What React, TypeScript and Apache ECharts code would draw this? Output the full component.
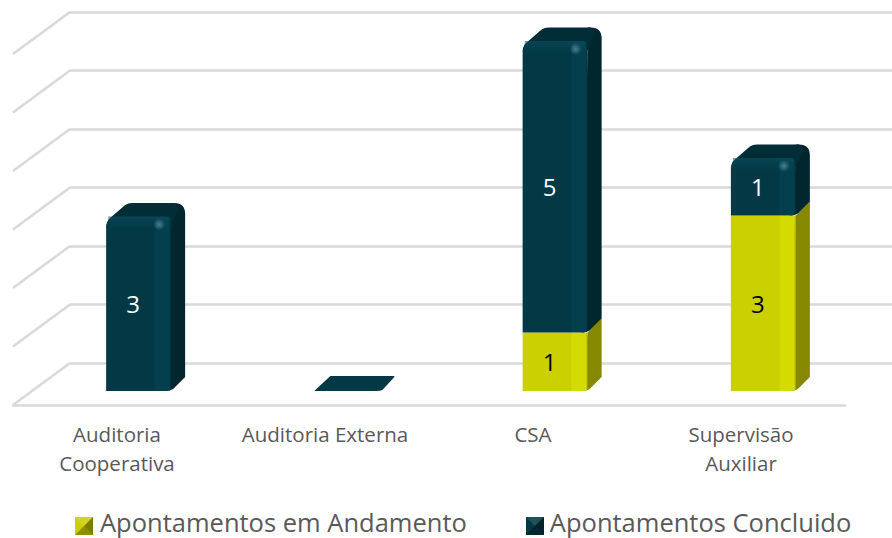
import React, { useEffect, useRef } from "react";
import * as echarts from "echarts";

const categories = ["Auditoria\nCooperativa", "Auditoria Externa", "CSA", "Supervisão\nAuxiliar"];
const andamento = [0, 0, 1, 3];
const concluido = [3, 0, 5, 1];
const wallTicks = [0, 1, 2, 3, 4, 5, 6];
const NAME_A = "Apontamentos em Andamento";
const NAME_C = "Apontamentos Concluido";
const FONT = '"Open Sans", sans-serif';

const NAVY = { main: "#023945", strip: "#043f4d", edge: "#022c36", side: "#01262e", top: "#012d37", band: "rgba(14,78,94,0.55)", spot: "rgba(80,140,155,0.85)", text: "#ffffff" };
const LIME = { main: "#cbd000", strip: "#d4db00", edge: "#a5a900", side: "#868900", top: "#9a9e00", band: "rgba(0,0,0,0)", spot: "rgba(0,0,0,0)", text: "#000000" };

const DX = 14, DY = -14, LEFT = 33, RIGHT = 32;

function renderBar(palette: typeof NAVY, isTop: (i: number) => boolean) {
  return (params: any, api: any) => {
    const i = api.value(0);
    const start = api.value(1);
    const end = api.value(2);
    const val = end - start;
    const top = isTop(i);
    if (val === 0 && !top) return { type: "group", children: [] };
    const pBase = api.coord([i, start]);
    const pTop = api.coord([i, end]);
    const x0 = pBase[0] - LEFT, x1 = pBase[0] + RIGHT;
    const yb = pBase[1], yt = pTop[1];
    const xr = x1 + DX, ybk = yb + DY;
    const ytk = yt + DY + 1.5;
    const children: any[] = [];
    if (val === 0) {
      children.push({
        type: "path",
        shape: { pathData: `M${x0},${yb} L${x0 + 3},${yb - 3} L${x0 + DX + 2},${ybk - 1} L${xr + 1},${ybk - 1} L${xr + 1},${ybk} L${x1 + 3},${yb - 1} Q${x1 + 1},${yb} ${x1 - 3},${yb} Z` },
        style: { fill: palette.main },
      });
      return { type: "group", children };
    }
    const sideD = top
      ? `M${x1 - 6},${yb} Q${x1 - 1},${yb} ${x1 + 2},${yb - 2} L${xr},${ybk} L${xr},${ytk + 11} Q${xr},${ytk} ${xr - 11},${ytk} L${x1},${ytk} L${x1},${yt + 8} Z`
      : `M${x1 - 6},${yb} Q${x1 - 1},${yb} ${x1 + 2},${yb - 2} L${xr},${ybk} L${xr},${ytk - 1.5} L${x1},${yt} Z`;
    children.push({ type: "path", shape: { pathData: sideD }, style: { fill: palette.side } });
    if (top) {
      const topD = `M${x0},${yt + 11} Q${x0 + 1},${yt + 5} ${x0 + 4},${yt + 2.5} L${x0 + 19},${ytk + 2} Q${x0 + 22},${ytk} ${x0 + 26},${ytk} L${x1 + 3},${ytk} L${x1 + 8},${ytk + 6} L${x1},${yt + 10} Z`;
      children.push({ type: "path", shape: { pathData: topD }, style: { fill: palette.top } });
    }
    const frontFill = new echarts.graphic.LinearGradient(0, 0, 1, 0, [
      { offset: 0, color: palette.main },
      { offset: 0.74, color: palette.main },
      { offset: 0.76, color: palette.strip },
      { offset: 0.97, color: palette.strip },
      { offset: 1, color: palette.edge },
    ]);
    const frontD = top
      ? `M${x0},${yb} L${x1 - 6},${yb} Q${x1 - 1},${yb} ${x1},${yb - 2} L${x1},${yt + 3} Q${x1 - 4},${yt + 1} ${x1 - 8},${yt + 1} L${x0 + 7},${yt + 1} Q${x0 + 1},${yt + 3} ${x0},${yt + 11} Z`
      : `M${x0},${yb} L${x1 - 6},${yb} Q${x1 - 1},${yb} ${x1},${yb - 2} L${x1},${yt} L${x0},${yt} Z`;
    children.push({ type: "path", shape: { pathData: frontD }, style: { fill: frontFill } });
    if (top) {
      children.push({
        type: "rect",
        shape: { x: x0 + 2, y: yt + 1, width: x1 - x0 - 4, height: 12 },
        style: {
          fill: new echarts.graphic.LinearGradient(0, 0, 0, 1, [
            { offset: 0, color: palette.band },
            { offset: 1, color: "rgba(14,78,94,0)" },
          ]),
        },
      });
      children.push({
        type: "circle",
        shape: { cx: x1 - 12, cy: yt + 9, r: 6 },
        style: {
          fill: new echarts.graphic.RadialGradient(0.5, 0.5, 0.5, [
            { offset: 0, color: palette.spot },
            { offset: 1, color: "rgba(80,140,155,0)" },
          ]),
        },
      });
    }
    children.push({
      type: "text",
      style: {
        text: String(val),
        x: pBase[0] - 6,
        y: (yb + yt) / 2,
        fill: palette.text,
        font: `24px ${FONT}`,
        align: "center",
        verticalAlign: "middle",
      },
    });
    return { type: "group", children };
  };
}

export default function App() {
  const ref = useRef<HTMLDivElement>(null);
  useEffect(() => {
    const chart = echarts.init(ref.current!, null, { renderer: "svg" });
    const hidden = { show: false };
    const bevel = (x: number, y: number, color: string) => {
      const s = 18, c = s / 2;
      const tri = (pts: number[][], fill: string) => ({ type: "polygon", silent: true, z: 20, shape: { points: pts }, style: { fill } });
      return [
        { type: "rect", silent: true, z: 19, shape: { x, y, width: s, height: s }, style: { fill: color } },
        tri([[x, y], [x + s, y], [x + c, y + c]], "rgba(255,255,255,0.12)"),
        tri([[x, y + s], [x + s, y + s], [x + c, y + c]], "rgba(0,0,0,0.3)"),
        tri([[x + s, y], [x + s, y + s], [x + c, y + c]], "rgba(0,0,0,0.4)"),
      ];
    };
    chart.setOption({
      animation: false,
      backgroundColor: "#ffffff",
      grid: [
        { left: 70, right: 0, top: 12, height: 351 },
        { left: 13, width: 832, top: 300, height: 105 },
        { left: 35, width: 833, top: 40, height: 351 },
      ],
      xAxis: [
        { gridIndex: 0, type: "category", data: categories, show: false },
        {
          gridIndex: 1,
          type: "category",
          data: categories,
          axisLine: { lineStyle: { color: "#d9d9d9", width: 2.5 } },
          axisTick: hidden,
          axisLabel: { interval: 0, color: "#595959", fontFamily: FONT, fontSize: 20.5, lineHeight: 29, margin: 14 },
        },
        { gridIndex: 2, type: "category", data: categories, show: false },
      ],
      yAxis: [
        {
          gridIndex: 0,
          type: "value",
          min: 0,
          max: 6,
          interval: 1,
          axisLine: hidden,
          axisTick: hidden,
          axisLabel: hidden,
          splitLine: { lineStyle: { color: "#d9d9d9", width: 2.5 } },
        },
        { gridIndex: 1, type: "value", show: false, min: 0, max: 1 },
        { gridIndex: 2, type: "value", show: false, min: 0, max: 6, interval: 1 },
      ],
      legend: {
        left: 75,
        top: 509,
        itemWidth: 18,
        itemHeight: 18,
        itemGap: 58,
        icon: "rect",
        selectedMode: false,
        padding: 0,
        data: [
          { name: NAME_A, itemStyle: { opacity: 0 } },
          { name: NAME_C, itemStyle: { opacity: 0 } },
        ],
        textStyle: { color: "#595959", fontFamily: FONT, fontSize: 25.5, padding: [0, 0, 10, 2] },
      },
      graphic: { elements: [...bevel(75, 517, LIME.main), ...bevel(526, 517, NAVY.main)] },
      series: [
        {
          type: "custom",
          name: "wall",
          xAxisIndex: 0,
          yAxisIndex: 0,
          silent: true,
          z: 1,
          clip: false,
          data: wallTicks.map((v) => [0, v]),
          renderItem: (params: any, api: any) => {
            const y = api.coord([0, api.value(1)])[1];
            const x = params.coordSys.x;
            return {
              type: "line",
              shape: { x1: x, y1: y, x2: x - 57, y2: y + 42 },
              style: { stroke: "#d9d9d9", lineWidth: 2.5 },
            };
          },
        },
        {
          type: "custom",
          name: NAME_A,
          xAxisIndex: 2,
          yAxisIndex: 2,
          z: 3,
          clip: false,
          itemStyle: { color: LIME.main },
          data: andamento.map((v, i) => [i, 0, v]),
          renderItem: renderBar(LIME, () => false),
        },
        {
          type: "custom",
          name: NAME_C,
          xAxisIndex: 2,
          yAxisIndex: 2,
          z: 4,
          clip: false,
          itemStyle: { color: NAVY.main },
          data: concluido.map((v, i) => [i, andamento[i], andamento[i] + v]),
          renderItem: renderBar(NAVY, () => true),
        },
      ],
    });
    return () => chart.dispose();
  }, []);
  return <div ref={ref} style={{ position: "fixed", left: 0, top: 0, width: 892, height: 538 }} />;
}
